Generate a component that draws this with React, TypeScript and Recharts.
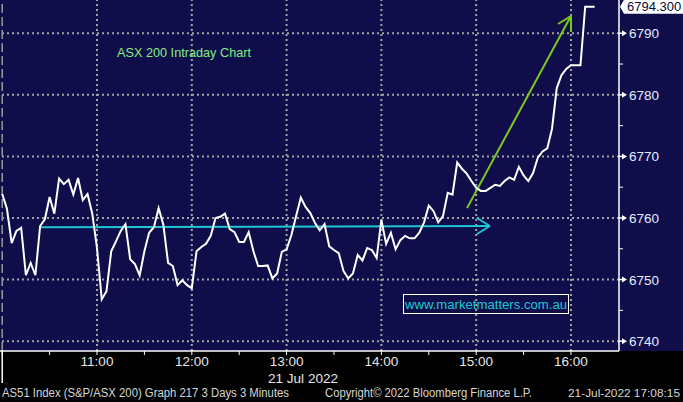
import { LineChart, Line, XAxis, YAxis, ReferenceLine } from "recharts";

// ASX 200 (AS51) 3-minute closes, 21 Jul 2022, from 10:00
const START_MIN = 0; // minutes after 10:00
const STEP_MIN = 3;
const closes = [
  6763.9, 6761.5, 6755.9, 6757.9, 6758.4, 6750.7, 6752.7, 6750.7, 6758.7, 6759.8,
  6763.4, 6760.7, 6766.4, 6765.5, 6766.2, 6763.8, 6766.5, 6762.9, 6763.9, 6760.7,
  6755.1, 6746.8, 6748.1, 6754.6, 6756.2, 6757.9, 6759.0, 6753.3, 6752.5, 6750.7,
  6754.6, 6757.6, 6758.5, 6761.6, 6758.9, 6752.7, 6752.2, 6749.1, 6749.9, 6749.1,
  6748.6, 6754.6, 6755.3, 6755.8, 6757.1, 6760.0, 6760.2, 6760.7, 6758.2, 6757.7,
  6756.1, 6756.1, 6757.7, 6754.6, 6752.2, 6752.2, 6752.3, 6750.2, 6751.0, 6754.5,
  6754.9, 6757.2, 6760.3, 6763.3, 6761.8, 6760.8, 6759.2, 6758.0, 6759.0, 6755.4,
  6754.8, 6754.3, 6751.4, 6750.2, 6751.0, 6754.0, 6753.1, 6755.1, 6754.8, 6753.5,
  6759.7, 6755.8, 6757.6, 6754.9, 6756.4, 6757.1, 6756.7, 6756.7, 6757.6, 6759.3,
  6762.0, 6761.1, 6759.3, 6760.3, 6764.1, 6763.8, 6769.0, 6768.0, 6767.2, 6766.0,
  6764.9, 6764.4, 6764.4, 6764.9, 6765.4, 6765.2, 6766.0, 6766.6, 6766.2, 6768.3,
  6766.9, 6766.0, 6767.3, 6769.8, 6770.8, 6771.3, 6774.5, 6781.1, 6783.2, 6784.2,
  6784.8, 6784.8, 6784.8, 6794.3, 6794.3, 6794.3,
];
const LAST = 6794.3;

const tickMinutes = [0, 30, 60, 90, 120, 150, 180, 210, 240, 270, 300, 330, 360];
const hourMinutes = [60, 120, 180, 240, 300, 360];
const hourLabels = ["11:00", "12:00", "13:00", "14:00", "15:00", "16:00"];
const priceLevels = [6740, 6750, 6760, 6770, 6780, 6790];
const minorLevels = [6745, 6755, 6765, 6775, 6785];

// annotation arrows (minutes, index level)
const cyanArrow = [
  { t: 24, v: 6758.5 },
  { t: 308.7, v: 6758.7 },
];
const cyanHead = [
  { t: 300.5, v: 6760.0 },
  { t: 308.7, v: 6758.7 },
  { t: 300.5, v: 6757.4 },
];
const greenArrow = [
  { t: 294.2, v: 6761.6 },
  { t: 360, v: 6792.8 },
];
const greenHead = [
  { t: 351.8, v: 6791.5 },
  { t: 360, v: 6792.8 },
  { t: 360, v: 6790.2 },
];

const data = closes.map((c, i) => ({ t: START_MIN + i * STEP_MIN, price: c }));

const FONT = "'Liberation Sans', Arial, sans-serif";
const NAVY = "#0f0e4a";
const GRID = "#a3a3a3";

function XTick(props: any) {
  const { x, y, payload } = props;
  const v = payload.value;
  if (v === 0) {
    return <line x1={x} x2={x} y1={y - 4} y2={y + 28} stroke="#fff" strokeWidth={1.5} />;
  }
  const idx = hourMinutes.indexOf(v);
  if (idx < 0) return <g />;
  return (
    <text x={x} y={y + 11} textAnchor="middle" fill="#e6e6e6" fontSize={13.5} fontFamily={FONT}>
      {hourLabels[idx]}
    </text>
  );
}

function YTick(props: any) {
  const { x, y, payload } = props;
  const v = payload.value;
  if (v === LAST) {
    return (
      <g>
        <polygon
          points={`${x + 1},${y} ${x + 5},${y - 7} ${x + 64},${y - 7} ${x + 64},${y + 7} ${x + 5},${y + 7}`}
          fill="#fff"
        />
        <text x={x + 8} y={y + 4.5} fill="#0a0a30" fontSize={13} fontFamily={FONT}>
          {LAST.toFixed(3)}
        </text>
      </g>
    );
  }
  if (priceLevels.includes(v)) {
    return (
      <g>
        <line x1={x} x2={x + 3} y1={y} y2={y} stroke="#fff" strokeWidth={1.5} />
        <polygon points={`${x + 3},${y - 3} ${x + 8},${y} ${x + 3},${y + 3}`} fill="#fff" />
        <text x={x + 10} y={y + 5} fill="#e6ecff" fontSize={13.5} fontFamily={FONT}>
          {v}
        </text>
      </g>
    );
  }
  return <line x1={x} x2={x + 4} y1={y} y2={y} stroke="#fff" strokeWidth={1} />;
}

export default function App() {
  const seg = (pts: { t: number; v: number }[]) =>
    pts.slice(1).map((p, i) => [
      { x: pts[i].t, y: pts[i].v },
      { x: p.t, y: p.v },
    ]);

  return (
    <div
      style={{
        position: "absolute",
        left: 0,
        top: 0,
        width: 683,
        height: 402,
        background: "#000",
        overflow: "hidden",
      }}
    >
      <div style={{ position: "absolute", left: 0, top: 0, width: 683, height: 351, background: NAVY }} />
      <div style={{ position: "absolute", left: 0, top: 0 }}>
        <LineChart width={683} height={402} data={data} margin={{ top: 0, right: 0, bottom: 0, left: 0 }}>
          <XAxis
            dataKey="t"
            type="number"
            domain={[-1.4, 390.4]}
            allowDataOverflow
            ticks={tickMinutes}
            interval={0}
            height={51}
            axisLine={{ stroke: "#fff", strokeWidth: 1.5 }}
            tickLine={{ stroke: "#fff" }}
            tickSize={4}
            tickMargin={0}
            tick={(p: any) => <XTick {...p} />}
          />
          <YAxis
            orientation="right"
            type="number"
            domain={[6738.4, 6795.4]}
            allowDataOverflow
            ticks={[...minorLevels, ...priceLevels, LAST]}
            interval={0}
            width={64}
            axisLine={{ stroke: "#fff", strokeWidth: 1.5 }}
            tickLine={false}
            tickSize={0}
            tickMargin={0}
            tick={(p: any) => <YTick {...p} />}
          />
          {priceLevels.map((p) => (
            <ReferenceLine key={`h${p}`} y={p} stroke={GRID} strokeWidth={2} strokeDasharray="2 3" />
          ))}
          {hourMinutes.map((m) => (
            <ReferenceLine key={`v${m}`} x={m} stroke={GRID} strokeWidth={2} strokeDasharray="2 3" />
          ))}
          <ReferenceLine x={0} stroke="#9a9a9a" strokeWidth={1.5} strokeDasharray="9 4" />
          {seg(cyanArrow).concat(seg(cyanHead)).map((s, i) => (
            <ReferenceLine key={`c${i}`} segment={s} stroke="#1fc6d4" strokeWidth={2} />
          ))}
          {seg(greenArrow).concat(seg(greenHead)).map((s, i) => (
            <ReferenceLine key={`g${i}`} segment={s} stroke="#7cc81e" strokeWidth={2} />
          ))}
          <Line
            type="linear"
            dataKey="price"
            stroke="#ffffff"
            strokeWidth={2}
            dot={false}
            activeDot={false}
            isAnimationActive={false}
          />
        </LineChart>
      </div>
      <svg
        width={683}
        height={402}
        style={{ position: "absolute", left: 0, top: 0, pointerEvents: "none" }}
      >
        <text x={117} y={57} fill="#84ec84" fontSize={13.5} fontFamily={FONT} textLength={134} lengthAdjust="spacingAndGlyphs">
          ASX 200 Intraday Chart
        </text>
        <rect x={403.5} y={294.5} width={165} height={19} fill="none" stroke="#fff" strokeWidth={1} />
        <text x={405} y={309} fill="#1fc6d4" fontSize={13.5} fontFamily={FONT} textLength={162} lengthAdjust="spacingAndGlyphs">
          www.marketmatters.com.au
        </text>
        <text x={268} y={383} fill="#e6e6e6" fontSize={13.5} fontFamily={FONT} textLength={70} lengthAdjust="spacingAndGlyphs">
          21 Jul 2022
        </text>
        <text x={2} y={397} fill="#d6d6d6" fontSize={12.5} fontFamily={FONT} textLength={287} lengthAdjust="spacingAndGlyphs">
          AS51 Index (S&amp;P/ASX 200) Graph 217 3 Days 3 Minutes
        </text>
        <text x={325} y={397} fill="#d6d6d6" fontSize={12.5} fontFamily={FONT} textLength={207} lengthAdjust="spacingAndGlyphs">
          Copyright© 2022 Bloomberg Finance L.P.
        </text>
        <text x={568} y={397} fill="#d6d6d6" fontSize={11.5} fontFamily={FONT} textLength={112} lengthAdjust="spacingAndGlyphs">
          21-Jul-2022 17:08:15
        </text>
      </svg>
    </div>
  );
}
